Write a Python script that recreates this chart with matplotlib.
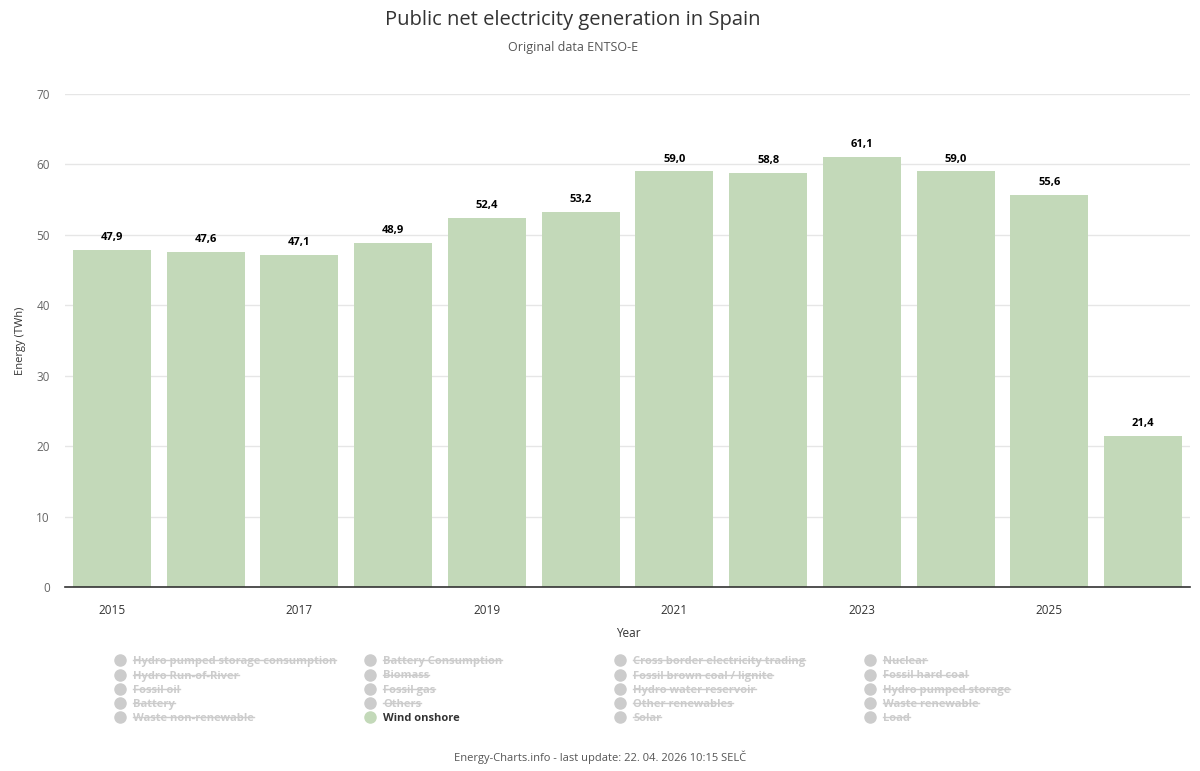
import numpy as np
import matplotlib
matplotlib.use("Agg")
import matplotlib.pyplot as plt
from matplotlib.lines import Line2D

plt.rcParams['font.family'] = ['Open Sans', 'DejaVu Sans']

# data
years = [2015, 2016, 2017, 2018, 2019, 2020, 2021, 2022, 2023, 2024, 2025, 2026]
wind_onshore = [47.9, 47.6, 47.1, 48.9, 52.4, 53.2, 59.0, 58.8, 61.1, 59.0, 55.6, 21.4]
tick_years = [2015, 2017, 2019, 2021, 2023, 2025]
y_ticks = [0, 10, 20, 30, 40, 50, 60, 70]

legend_rows = [
    ["Hydro pumped storage consumption", "Battery Consumption", "Cross border electricity trading", "Nuclear"],
    ["Hydro Run-of-River", "Biomass", "Fossil brown coal / lignite", "Fossil hard coal"],
    ["Fossil oil", "Fossil gas", "Hydro water reservoir", "Hydro pumped storage"],
    ["Battery", "Others", "Other renewables", "Waste renewable"],
    ["Waste non-renewable", "Wind onshore", "Solar", "Load"],
]
active_series = "Wind onshore"

bar_color = "#c3d9b9"
grey = "#cccccc"

fig = plt.figure(figsize=(12, 7.71), dpi=100)
ax = fig.add_axes([65 / 1200, 1 - 587 / 771, 1125 / 1200, 493 / 771])

x = np.arange(len(years))
bars = ax.bar(x, wind_onshore, width=0.83, color=bar_color, zorder=2)
for xi, v in zip(x, wind_onshore):
    ax.annotate(f"{v:.1f}".replace(".", ","), (xi, v), xytext=(0, 5),
                textcoords="offset points", ha="center", va="bottom",
                fontsize=8, fontweight="bold", color="black")

ax.set_xlim(-0.5, len(years) - 0.5)
ax.set_ylim(0, 70)
ax.set_yticks(y_ticks)
ax.set_yticklabels([str(t) for t in y_ticks], color="#666666", fontsize=8.5)
ax.set_xticks([years.index(y) for y in tick_years])
ax.set_xticklabels([str(y) for y in tick_years], color="#333333", fontsize=8.5)
ax.tick_params(axis="both", length=0)
ax.tick_params(axis="x", pad=12)
ax.tick_params(axis="y", pad=11)
ax.grid(axis="y", color="#e6e6e6", linewidth=1, zorder=0)
for s in ["top", "right", "left"]:
    ax.spines[s].set_visible(False)
ax.spines["bottom"].set_color("#333333")
ax.spines["bottom"].set_linewidth(1.2)
ax.spines["bottom"].set_zorder(3)

ax.set_ylabel("Energy (TWh)", fontsize=8, color="#333333", labelpad=6)
ax.yaxis.set_label_coords(-0.035, 0.5)
ax.set_xlabel("Year", fontsize=8.5, color="#333333")
ax.xaxis.set_label_coords(0.501, -0.082)

fig.text(0.4775, 1 - 20 / 771, "Public net electricity generation in Spain",
         ha="center", va="center", fontsize=14.5, color="#333333")
fig.text(0.4775, 1 - 48 / 771, "Original data ENTSO-E",
         ha="center", va="center", fontsize=9, color="#555555")
fig.text(0.5, 1 - 757 / 771, "Energy-Charts.info - last update: 22. 04. 2026 10:15 SELČ",
         ha="center", va="center", fontsize=8, color="#555555")

# legend
col_x = [120, 370, 620, 870]
row_y = [660, 674.5, 689, 703, 717]
texts = []
for r, row in enumerate(legend_rows):
    for c, name in enumerate(row):
        on = name == active_series
        fy = 1 - row_y[r] / 771
        fig.add_artist(Line2D([col_x[c] / 1200], [fy], marker="o", markersize=8,
                              color=bar_color if on else grey, linestyle="none",
                              transform=fig.transFigure))
        t = fig.text((col_x[c] + 13) / 1200, fy - 4 / 771, name, ha="left", va="baseline",
                     fontsize=8, fontweight="bold",
                     color="#333333" if on else grey)
        if not on:
            texts.append((t, fy))

fig.canvas.draw()
renderer = fig.canvas.get_renderer()
for t, fy in texts:
    bb = t.get_window_extent(renderer).transformed(fig.transFigure.inverted())
    fig.add_artist(Line2D([bb.x0, bb.x1], [fy, fy], color=grey, linewidth=1,
                          transform=fig.transFigure))

fig.savefig("out.png", dpi=100, facecolor="white")
